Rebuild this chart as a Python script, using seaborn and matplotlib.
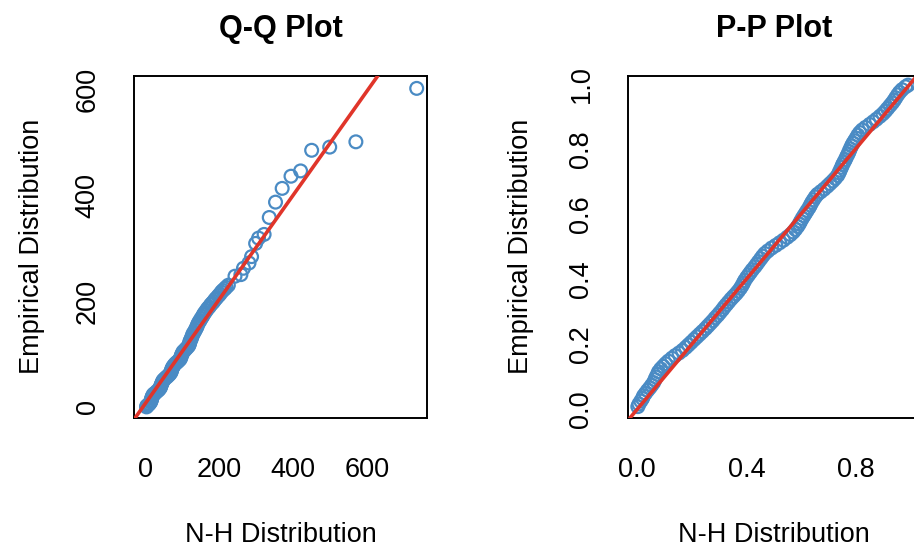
import matplotlib
matplotlib.use("Agg")
import matplotlib.pyplot as plt
import seaborn as sns

sns.set_style("white")
plt.rcParams['font.family'] = ['Liberation Sans', 'DejaVu Sans']
plt.rcParams['text.color'] = 'black'
plt.rcParams['axes.labelcolor'] = 'black'

BLUE = "#4a8bc4"
RED = "#e0352a"

# Q-Q plot: theoretical (N-H) quantiles vs sorted sample
qq_theoretical = [
    2, 3, 7, 10, 13, 14, 15, 16, 17, 18, 20, 23, 27, 31, 35, 38, 40, 41, 42, 44,
    45, 47, 50, 54, 58, 62, 65, 68, 69, 70, 71, 73, 75, 78, 82, 86, 90, 93, 95, 96,
    97, 99, 101, 104, 108, 112, 116, 118, 119, 120,
    122, 124, 126, 128, 131, 134, 137, 139, 141, 144, 147, 150, 154, 157, 160, 164,
    168, 172, 176, 180, 184, 188, 192, 197, 201, 205, 209, 214, 218, 224,
    242, 258, 265, 280, 287, 298, 306, 321, 335, 352, 370, 394, 420, 450, 499, 570, 735,
]
qq_empirical = [
    0, 2, 4, 6, 9, 11, 13, 16, 18, 20, 23, 25, 27, 30, 32, 35, 37, 40, 42, 45,
    47, 50, 52, 55, 57, 60, 62, 65, 67, 70, 72, 75, 77, 80, 83, 85, 88, 90, 93, 96,
    98, 101, 104, 106, 109, 112, 115, 118, 121, 124,
    127, 130, 134, 138, 141, 145, 149, 152, 156, 160, 163, 167, 171, 175, 178, 182,
    186, 189, 193, 196, 199, 203, 206, 210, 213, 217, 220, 223, 226, 230,
    247, 250, 262, 272, 284, 309, 319, 326, 358, 387, 413, 436, 446, 485, 491, 501, 602,
]
qq_intercept = 7.6
qq_slope = 0.982

# P-P plot: theoretical (N-H) CDF vs empirical CDF
pp_theoretical = [
    .002, .006, .013, .019, .023, .030, .038, .046, .053, .060,
    .065, .069, .074, .078, .086, .095, .104, .114, .127, .139,
    .153, .166, .178, .188, .198, .209, .219, .229, .239, .250,
    .259, .268, .277, .286, .295, .303, .312, .319, .327, .335,
    .344, .353, .362, .370, .378, .384, .389, .394, .401, .408,
    .415, .422, .431, .438, .445, .453, .460, .468, .479, .493,
    .508, .522, .536, .550, .562, .572, .580, .588, .594, .599,
    .605, .611, .617, .623, .630, .635, .640, .646, .653, .661,
    .673, .685, .697, .707, .717, .726, .735, .740, .744, .749,
    .753, .758, .763, .768, .773, .777, .781, .786, .791, .797,
    .803, .809, .816, .825, .837, .852, .865, .877, .890, .901,
    .910, .918, .927, .935, .942, .948, .955, .962, .971, .984, .993,
]
pp_empirical = [
    .008, .016, .025, .033, .041, .049, .058, .066, .074, .082,
    .091, .099, .107, .115, .124, .132, .140, .148, .157, .165,
    .173, .181, .190, .198, .206, .215, .223, .231, .239, .248,
    .256, .264, .272, .281, .289, .297, .306, .314, .322, .330,
    .339, .347, .355, .363, .372, .380, .388, .396, .405, .413,
    .421, .429, .438, .446, .454, .463, .471, .479, .487, .496,
    .504, .512, .520, .529, .537, .545, .553, .562, .570, .578,
    .587, .595, .603, .611, .620, .628, .636, .644, .653, .661,
    .669, .677, .686, .694, .702, .710, .719, .727, .735, .744,
    .752, .760, .768, .777, .785, .793, .801, .810, .818, .826,
    .834, .843, .851, .859, .867, .876, .884, .892, .901, .909,
    .917, .925, .934, .942, .950, .958, .967, .975, .983, .992, .997,
]

fig = plt.figure(figsize=(9.14, 5.48), dpi=100)
ax1 = fig.add_axes([0.1466, 0.2372, 0.3206, 0.6247])
ax2 = fig.add_axes([0.6868, 0.2372, 0.3198, 0.6247])


def style_axes(ax, title, ylabel_x):
    for sp in ax.spines.values():
        sp.set_visible(True)
        sp.set_color("black")
        sp.set_linewidth(1.4)
    ax.tick_params(axis="both", direction="out", length=11, width=1.4,
                   color="black", labelsize=19.5, labelcolor="black")
    ax.tick_params(axis="x", pad=17)
    ax.tick_params(axis="y", pad=13, labelrotation=90)
    for lbl in ax.get_yticklabels():
        lbl.set_va("center")
    ax.set_title(title, fontsize=22, fontweight="bold", pad=28, color="black")
    ax.set_xlabel("N-H Distribution", fontsize=19.5, color="black")
    ax.set_ylabel("Empirical Distribution", fontsize=19.5, color="black")
    ax.xaxis.set_label_coords(0.5, -0.305)
    ax.yaxis.set_label_coords(ylabel_x, 0.5)


# Q-Q
sns.scatterplot(x=qq_theoretical, y=qq_empirical, ax=ax1, marker="o", s=85,
                color=BLUE, facecolor="none", edgecolor=BLUE, linewidth=1.6)
ax1.axline((0, qq_intercept), slope=qq_slope, color=RED, lw=2.6, zorder=3)
ax1.set_xlim(-32, 763)
ax1.set_ylim(-21, 626)
ax1.set_xticks([0, 200, 400, 600])
ax1.set_yticks([0, 100, 200, 300, 400, 500, 600])
ax1.set_yticklabels(["0", "", "200", "", "400", "", "600"])
style_axes(ax1, "Q-Q Plot", -0.305)

# P-P
sns.scatterplot(x=pp_theoretical, y=pp_empirical, ax=ax2, marker="o", s=85,
                color=BLUE, facecolor="none", edgecolor=BLUE, linewidth=1.6)
ax2.axline((0, 0), slope=1, color=RED, lw=2.6, zorder=3)
ax2.set_xlim(-0.035, 1.037)
ax2.set_ylim(-0.027, 1.026)
ax2.set_xticks([0, 0.2, 0.4, 0.6, 0.8, 1.0])
ax2.set_xticklabels(["0.0", "", "0.4", "", "0.8", ""])
ax2.set_yticks([0, 0.2, 0.4, 0.6, 0.8, 1.0])
ax2.set_yticklabels(["0.0", "0.2", "0.4", "0.6", "0.8", "1.0"])
style_axes(ax2, "P-P Plot", -0.32)

fig.savefig("out.png", dpi=100)
